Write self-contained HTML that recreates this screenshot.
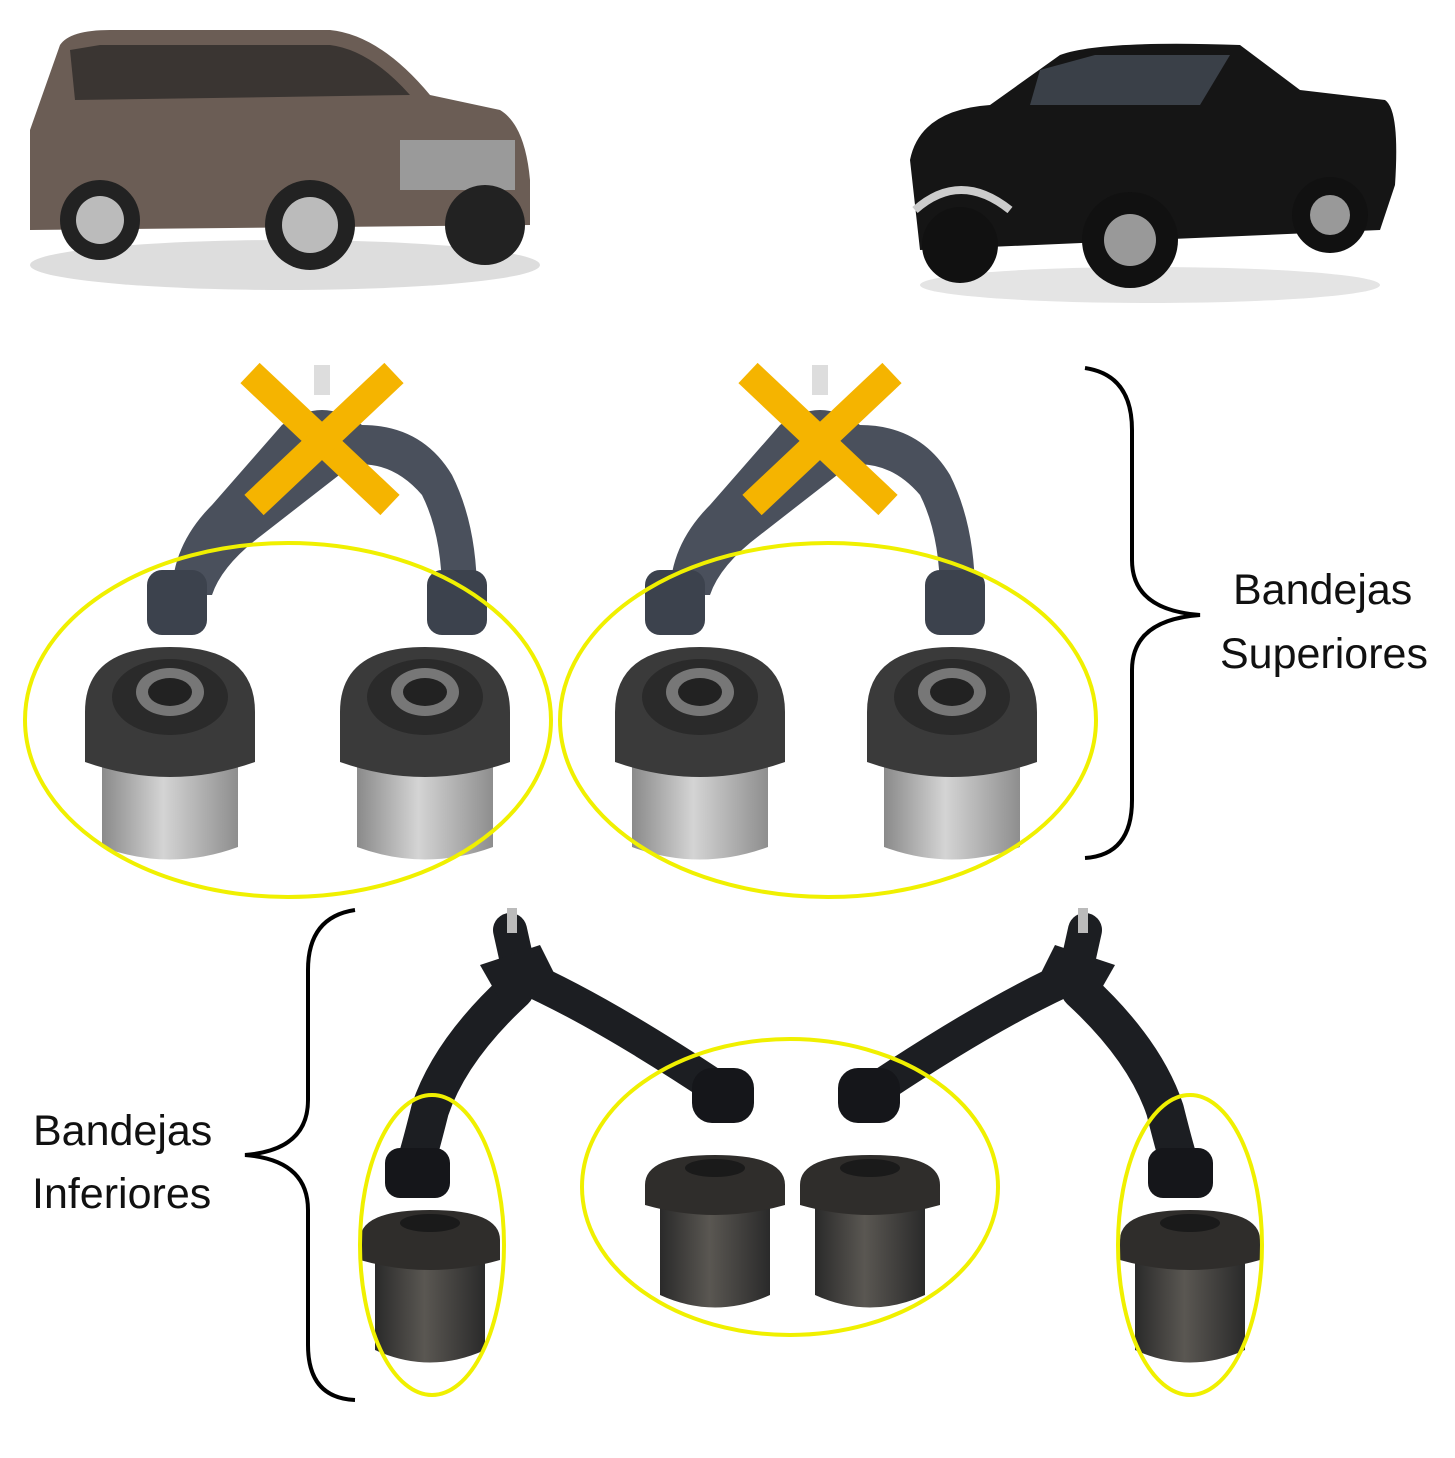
<!DOCTYPE html>
<html><head><meta charset="utf-8"><style>
html,body{margin:0;padding:0;background:#fff}
svg{display:block}
text{font-family:"Liberation Sans",sans-serif;fill:#111}
</style></head><body>
<svg width="1455" height="1458" viewBox="0 0 1455 1458" xmlns="http://www.w3.org/2000/svg">
<defs>
<linearGradient id="bg" x1="0" x2="1"><stop offset="0" stop-color="#8a8a8a"/><stop offset=".45" stop-color="#d4d4d4"/><stop offset="1" stop-color="#8e8e8e"/></linearGradient>
<linearGradient id="bd" x1="0" x2="1"><stop offset="0" stop-color="#2a2a2a"/><stop offset=".45" stop-color="#5a5752"/><stop offset="1" stop-color="#2a2a2a"/></linearGradient>
<g id="ub">
 <path d="M-68,50 L-68,175 Q0,200 68,175 L68,50 Z" fill="url(#bg)"/>
 <path d="M-85,40 Q-85,-25 0,-25 Q85,-25 85,40 L85,90 Q0,120 -85,90 Z" fill="#3a3a3a"/>
 <ellipse cx="0" cy="25" rx="58" ry="38" fill="#2a2a2a"/>
 <ellipse cx="0" cy="20" rx="34" ry="24" fill="#777"/>
 <ellipse cx="0" cy="20" rx="22" ry="14" fill="#222"/>
</g>
<g id="lb">
 <path d="M-55,20 L-55,125 Q0,150 55,125 L55,20 Z" fill="url(#bd)"/>
 <path d="M-70,15 Q-70,-15 0,-15 Q70,-15 70,15 L70,35 Q0,55 -70,35 Z" fill="#2f2d2b"/>
 <ellipse cx="0" cy="-2" rx="30" ry="9" fill="#1a1a1a"/>
</g>
<g id="ua">
 <path d="M-150,230 Q-150,180 -110,140 L-40,60 Q0,30 40,60 Q100,60 130,110 Q155,160 155,230 L120,230 Q120,170 100,130 Q70,95 30,100 L-60,170 Q-100,200 -110,230 Z" fill="#4a505c"/>
 <rect x="-8" y="0" width="16" height="30" fill="#ddd"/>
 <rect x="-175" y="205" width="60" height="65" rx="15" fill="#3c424d"/>
 <rect x="105" y="205" width="60" height="65" rx="15" fill="#3c424d"/>
 <line x1="-72" y1="8" x2="68" y2="140" stroke="#f5b400" stroke-width="28"/>
 <line x1="72" y1="8" x2="-68" y2="140" stroke="#f5b400" stroke-width="28"/>
</g>
</defs>

<!-- cars -->
<ellipse cx="285" cy="265" rx="255" ry="25" fill="#ddd"/>
<path d="M30,130 L60,45 Q70,30 110,30 L330,30 Q380,35 430,95 L500,110 Q525,125 530,180 L530,225 L30,230 Z" fill="#6b5d55"/>
<path d="M70,50 L100,45 L330,45 Q370,50 410,95 L75,100 Z" fill="#3a3532"/>
<rect x="400" y="140" width="115" height="50" fill="#9a9a9a"/>
<circle cx="100" cy="220" r="40" fill="#222"/><circle cx="100" cy="220" r="24" fill="#bbb"/>
<circle cx="310" cy="225" r="45" fill="#222"/><circle cx="310" cy="225" r="28" fill="#bbb"/>
<circle cx="485" cy="225" r="40" fill="#222"/>
<ellipse cx="1150" cy="285" rx="230" ry="18" fill="#e4e4e4"/>
<path d="M910,160 Q920,110 990,105 L1060,55 Q1100,40 1240,45 L1300,90 L1385,100 Q1400,110 1395,185 L1380,230 L920,250 Z" fill="#151515"/>
<path d="M1040,70 L1095,55 L1230,55 L1200,105 L1030,105 Z" fill="#3a4048"/>
<path d="M915,210 Q960,170 1010,210" stroke="#ccc" stroke-width="8" fill="none"/>
<circle cx="960" cy="245" r="38" fill="#111"/>
<circle cx="1130" cy="240" r="48" fill="#111"/><circle cx="1130" cy="240" r="26" fill="#999"/>
<circle cx="1330" cy="215" r="38" fill="#111"/><circle cx="1330" cy="215" r="20" fill="#999"/>

<!-- upper arms -->
<use href="#ua" x="322" y="365"/>
<use href="#ua" x="820" y="365"/>
<use href="#ub" x="170" y="672"/>
<use href="#ub" x="425" y="672"/>
<use href="#ub" x="700" y="672"/>
<use href="#ub" x="952" y="672"/>

<!-- lower arms -->
<g fill="none" stroke="#1c1e22" stroke-linecap="round" stroke-linejoin="round">
<path d="M510,930 L520,975 Q600,1010 720,1090" stroke-width="34"/>
<path d="M515,990 Q450,1050 430,1110 Q420,1150 415,1165" stroke-width="38"/>
<path d="M1085,930 L1075,975 Q995,1010 875,1090" stroke-width="34"/>
<path d="M1080,990 Q1145,1050 1165,1110 Q1175,1150 1180,1165" stroke-width="38"/>
</g>
<path d="M480,965 L540,945 L560,985 L500,1000 Z" fill="#1c1e22"/>
<path d="M1115,965 L1055,945 L1035,985 L1095,1000 Z" fill="#1c1e22"/>
<rect x="692" y="1068" width="62" height="55" rx="20" fill="#15161a"/>
<rect x="385" y="1148" width="65" height="50" rx="15" fill="#15161a"/>
<rect x="838" y="1068" width="62" height="55" rx="20" fill="#15161a"/>
<rect x="1148" y="1148" width="65" height="50" rx="15" fill="#15161a"/>
<rect x="507" y="908" width="10" height="25" fill="#bbb"/><rect x="1078" y="908" width="10" height="25" fill="#bbb"/>
<use href="#lb" x="430" y="1225"/>
<use href="#lb" x="715" y="1170"/>
<use href="#lb" x="870" y="1170"/>
<use href="#lb" x="1190" y="1225"/>

<!-- yellow ellipses -->
<g fill="none" stroke="#f0f000" stroke-width="4">
<ellipse cx="288" cy="720" rx="263" ry="177"/>
<ellipse cx="828" cy="720" rx="268" ry="177"/>
<ellipse cx="432" cy="1245" rx="72" ry="150"/>
<ellipse cx="790" cy="1187" rx="208" ry="148"/>
<ellipse cx="1190" cy="1245" rx="72" ry="150"/>
</g>

<!-- braces -->
<path d="M1085,368 Q1132,375 1132,430 L1132,560 Q1132,610 1200,615 Q1132,620 1132,670 L1132,800 Q1132,855 1085,858" fill="none" stroke="#000" stroke-width="4"/>
<path d="M355,910 Q308,917 308,970 L308,1100 Q308,1150 245,1155 Q308,1160 308,1210 L308,1345 Q308,1398 355,1400" fill="none" stroke="#000" stroke-width="4"/>

<text x="1233" y="604" font-size="43">Bandejas</text>
<text x="1220" y="668" font-size="43">Superiores</text>
<text x="33" y="1145" font-size="43">Bandejas</text>
<text x="32" y="1208" font-size="43">Inferiores</text>
</svg>
</body></html>
